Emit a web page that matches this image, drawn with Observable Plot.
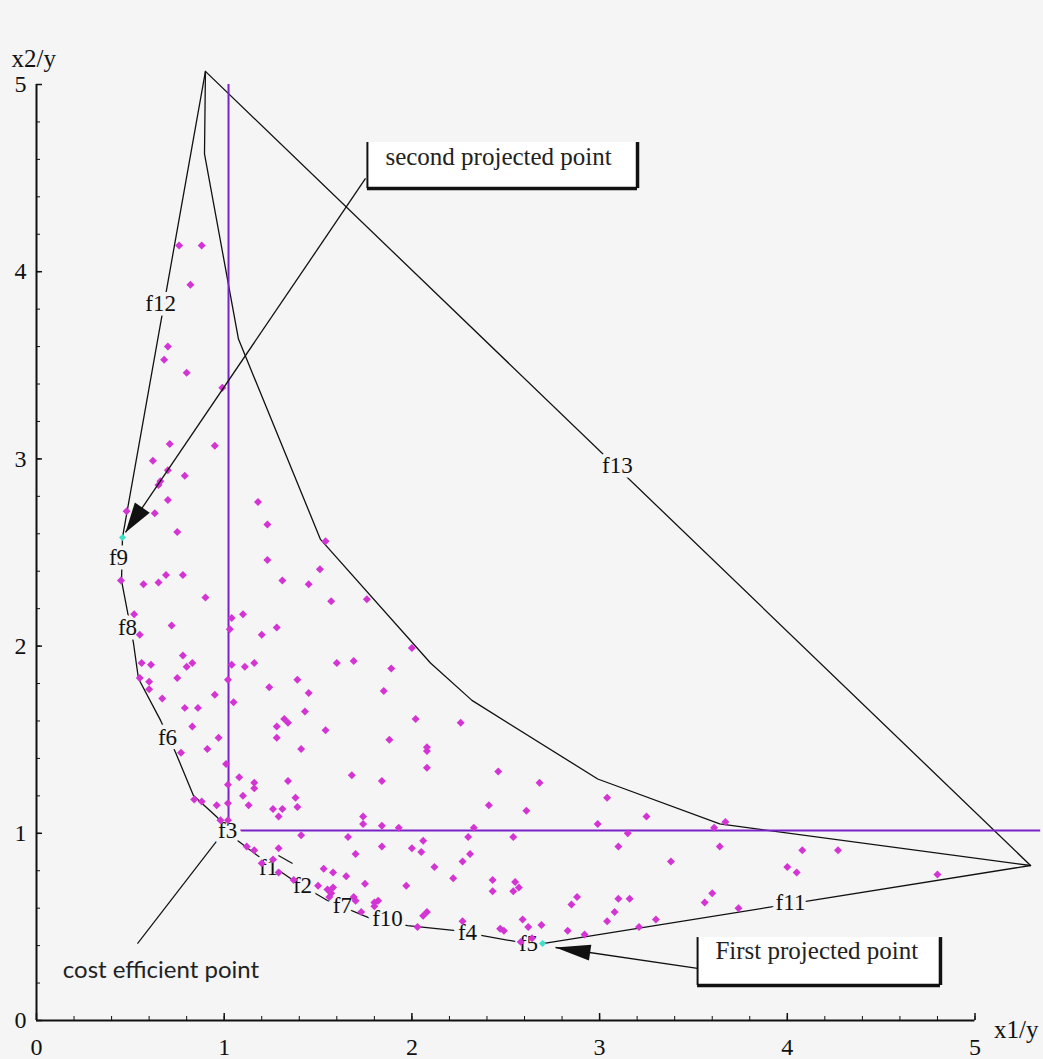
<!DOCTYPE html>
<html>
<head>
<meta charset="utf-8">
<script src="https://cdn.jsdelivr.net/npm/d3@7"></script>
<script src="https://cdn.jsdelivr.net/npm/@observablehq/plot@0.6"></script>
<style>
  html, body { margin: 0; padding: 0; background: #f5f5f5; }
  #chart { width: 1043px; height: 1059px; }
  #chart svg text { font-family: "Liberation Serif", "DejaVu Serif", serif; }
  #chart svg text.sansnote { font-family: Lato, "Noto Sans", sans-serif; }
</style>
</head>
<body>
<div id="chart"></div>
<script>
// ---------- data (chart units) ----------
const pointsX = [
  0.76,0.88,0.82,0.70,0.68,0.80,0.99,0.71,0.95,0.62,
  0.70,0.66,0.65,0.79,0.70,0.48,0.63,1.18,1.23,0.75,
  1.23,1.54,0.45,0.57,0.65,0.69,0.78,0.90,1.31,1.51,
  1.45,1.57,1.76,0.52,0.72,1.04,1.10,1.03,1.28,1.20,
  0.55,2.00,0.56,0.61,0.78,0.83,0.80,1.04,1.11,1.16,
  1.60,1.69,1.89,0.55,0.60,0.75,1.02,1.24,1.39,1.45,
  1.85,0.95,0.67,0.60,1.05,1.43,2.02,0.79,0.86,1.32,
  1.34,1.28,1.54,0.83,1.28,1.88,0.97,0.91,1.41,0.77,
  2.08,2.08,1.01,1.08,1.68,1.84,1.16,1.16,1.34,1.02,
  1.10,1.38,0.84,0.88,0.96,1.02,1.13,1.39,1.26,1.31,
  1.29,1.74,1.74,0.98,1.02,1.84,1.93,1.41,1.66,2.06,
  1.84,2.00,2.05,1.12,1.16,1.29,1.70,1.20,1.26,1.53,
  1.58,1.65,1.29,1.37,1.75,1.97,1.50,1.55,1.58,1.56,
  1.69,1.57,
  2.30,2.54,2.31,2.27,2.12,2.22,2.43,2.43,2.55,2.54,
  2.57,1.70,1.80,1.82,1.80,1.73,2.08,2.06,2.03,2.27,
  2.59,2.47,2.49,2.62,2.69,2.58,2.26,2.08,2.46,2.68,
  2.41,2.61,2.99,3.04,3.25,2.33,3.15,3.10,3.61,3.67,
  3.64,3.38,2.88,3.10,3.16,3.60,4.00,2.85,3.56,3.08,
  3.04,3.74,3.30,3.21,2.83,2.92,2.64,4.08,4.27,4.05,4.80
];
const pointsY = [
  4.14,4.14,3.93,3.60,3.53,3.46,3.38,3.08,3.07,2.99,
  2.94,2.88,2.86,2.91,2.78,2.72,2.71,2.77,2.65,2.61,
  2.46,2.56,2.35,2.33,2.34,2.38,2.38,2.26,2.35,2.41,
  2.33,2.24,2.25,2.17,2.11,2.15,2.17,2.09,2.10,2.06,
  2.06,1.99,1.91,1.90,1.95,1.91,1.89,1.90,1.89,1.91,
  1.91,1.92,1.88,1.83,1.81,1.83,1.82,1.78,1.82,1.75,
  1.76,1.74,1.72,1.77,1.70,1.65,1.61,1.67,1.67,1.61,
  1.59,1.57,1.55,1.57,1.51,1.50,1.51,1.45,1.45,1.43,
  1.46,1.35,1.37,1.30,1.31,1.28,1.27,1.24,1.28,1.26,
  1.20,1.19,1.18,1.17,1.15,1.16,1.15,1.14,1.13,1.13,
  1.09,1.09,1.05,1.07,1.07,1.04,1.03,0.99,0.98,0.96,
  0.93,0.92,0.90,0.93,0.91,0.92,0.89,0.84,0.86,0.81,
  0.79,0.77,0.79,0.75,0.73,0.72,0.72,0.70,0.71,0.66,
  0.66,0.68,
  0.98,0.98,0.89,0.85,0.82,0.76,0.75,0.69,0.74,0.69,
  0.71,0.64,0.63,0.64,0.61,0.58,0.58,0.56,0.50,0.53,
  0.54,0.49,0.48,0.50,0.51,0.42,1.59,1.44,1.33,1.27,
  1.15,1.12,1.05,1.19,1.09,1.03,1.00,0.93,1.03,1.06,
  0.93,0.85,0.66,0.65,0.65,0.68,0.82,0.62,0.63,0.58,
  0.53,0.60,0.54,0.50,0.48,0.46,0.44,0.91,0.91,0.79,0.78
];

// projected points (cyan): f9 and f5
const projX = [0.458, 2.696];
const projY = [2.580, 0.411];

// outer boundary: peak -> f12 -> f9 ... f5 -> f11 -> far vertex -> f13 -> peak
const outerX = [0.90, 0.458,0.453,0.517,0.543,0.661,0.741,0.836,0.964,1.071,1.177,1.369,1.550,1.769,1.977,2.222,2.579,2.696, 5.296, 0.90];
const outerY = [5.07, 2.580,2.350,2.014,1.827,1.603,1.432,1.202,1.084,0.962,0.881,0.748,0.641,0.550,0.507,0.481,0.417,0.411, 0.828, 5.07];

// inner boundary curve
const innerX = [0.90, 0.895, 1.076, 1.513, 2.099, 2.32, 2.99, 3.64, 5.296];
const innerY = [5.07, 4.63, 3.64, 2.57, 1.91, 1.71, 1.29, 1.05, 0.828];

// purple reference lines
const vRule = [{x: 1.023, y1: 1.05, y2: 5.0}];
const hRule = [{y: 1.015, x1: 1.06, x2: 5.35}];

// facet labels
const labelNames = ["f12","f13","f9","f8","f6","f3","f1","f2","f7","f10","f4","f5","f11"];
const labelX = [0.661,3.095,0.437,0.485,0.698,1.018,1.236,1.417,1.630,1.870,2.296,2.621,4.017];
const labelY = [3.83, 2.965,2.473,2.100,1.512,1.015,0.817,0.721,0.614,0.545,0.470,0.411,0.630];

// ticks
const xTickLabels = [0,1,2,3,4,5];
const yTickLabels = [0,1,2,3,4,5];
const minorTicks = d3.range(0, 5.0001, 0.2);

// annotations
const boxes = [
  {x1: 1.763, x2: 3.202, y1: 4.444, y2: 4.690, tx: 1.859, ty: 4.615, text: "second projected point"},
  {x1: 3.522, x2: 4.816, y1: 0.187, y2: 0.443, tx: 3.617, ty: 0.370, text: "First projected point"}
];
const arrows = [
  {x1: 1.753, y1: 4.498, x2: 0.474, y2: 2.607, len: 30, half: 9},
  {x1: 3.522, y1: 0.278, x2: 2.765, y2: 0.390, len: 35, half: 8}
];
const plainLinks = [
  {x1: 0.970, y1: 0.972, x2: 0.538, y2: 0.411},
  {x1: 1.289, y1: 0.881, x2: 1.364, y2: 0.839}
];
const notes = [{x: 0.14, y: 0.267, text: "cost efficient point"}];

// ---------- layout ----------
const W = 1043, H = 1059, ML = 36, MR = 68.5, MT = 84, MB = 39;
const kx = (W - ML - MR) / 5, ky = (H - MT - MB) / 5;
const BG = "#f5f5f5", INK = "#111", MAGENTA = "#d334d3", CYAN = "#3ee0c6", PURPLE = "#7a22c8";
const SERIF = "Liberation Serif, DejaVu Serif, serif";

const points = pointsX.map((x, i) => ({x, y: pointsY[i]}));
const proj = projX.map((x, i) => ({x, y: projY[i]}));
const outer = outerX.map((x, i) => ({x, y: outerY[i]}));
const inner = innerX.map((x, i) => ({x, y: innerY[i]}));
const labels = labelNames.map((t, i) => ({t, x: labelX[i], y: labelY[i]}));

function headSymbol(a) {
  let ux = (a.x2 - a.x1) * kx, uy = -(a.y2 - a.y1) * ky;
  const n = Math.hypot(ux, uy); ux /= n; uy /= n;
  const bx = -ux * a.len, by = -uy * a.len, px = -uy * a.half, py = ux * a.half;
  return {draw(ctx) {
    ctx.moveTo(0, 0);
    ctx.lineTo(bx + px, by + py);
    ctx.lineTo(bx - px, by - py);
    ctx.closePath();
  }};
}

const chart = Plot.plot({
  width: W, height: H,
  marginLeft: ML, marginRight: MR, marginTop: MT, marginBottom: MB,
  x: {domain: [0, 5], axis: null},
  y: {domain: [0, 5], axis: null},
  style: {background: BG, overflow: "visible"},
  marks: [
    // axes
    Plot.ruleY([0], {x1: 0, x2: 5, stroke: INK, strokeWidth: 2}),
    Plot.ruleX([0], {y1: 0, y2: 5, stroke: INK, strokeWidth: 2}),
    Plot.ruleX(xTickLabels, {x: d => d, y1: 0, y2: 7 / ky, stroke: INK, strokeWidth: 1.5}),
    Plot.ruleX(minorTicks, {x: d => d, y1: 0, y2: 4 / ky, stroke: INK, strokeWidth: 1}),
    Plot.ruleY(yTickLabels, {y: d => d, x1: 0, x2: 6 / kx, stroke: INK, strokeWidth: 1.5}),
    Plot.ruleY(minorTicks, {y: d => d, x1: 0, x2: 4 / kx, stroke: INK, strokeWidth: 1}),
    Plot.text(xTickLabels, {x: d => d, y: 0, dy: 27, text: d => String(d), fontSize: 24, fontFamily: SERIF, fill: INK}),
    Plot.text(yTickLabels, {x: 0, y: d => d, dx: -16, text: d => String(d), fontSize: 24, fontFamily: SERIF, fill: INK}),
    Plot.text(["x2/y"], {x: 0, y: 5, dx: -25, dy: -26, text: d => d, textAnchor: "start", fontSize: 25, fontFamily: SERIF, fill: INK}),
    Plot.text(["x1/y"], {x: 5, y: 0, dx: 19, dy: 9, text: d => d, textAnchor: "start", fontSize: 25, fontFamily: SERIF, fill: INK}),

    // boundaries
    Plot.line(outer, {x: "x", y: "y", stroke: INK, strokeWidth: 1.3}),
    Plot.line(inner, {x: "x", y: "y", stroke: INK, strokeWidth: 1.3}),

    // purple lines
    Plot.ruleX(vRule, {x: "x", y1: "y1", y2: "y2", stroke: PURPLE, strokeWidth: 2}),
    Plot.ruleY(hRule, {y: "y", x1: "x1", x2: "x2", stroke: PURPLE, strokeWidth: 2}),

    // plain lines
    Plot.link(plainLinks, {x1: "x1", y1: "y1", x2: "x2", y2: "y2", stroke: INK, strokeWidth: 1.2}),

    // facet labels with halo
    Plot.text(labels, {x: "x", y: "y", text: "t", fontSize: 23, fontFamily: SERIF, fill: BG, stroke: BG, strokeWidth: 9}),
    Plot.text(labels, {x: "x", y: "y", text: "t", fontSize: 23, fontFamily: SERIF, fill: INK}),

    // points
    Plot.dot(points, {x: "x", y: "y", symbol: "diamond2", r: 3.6, fill: MAGENTA, stroke: "none"}),
    Plot.dot(proj, {x: "x", y: "y", symbol: "diamond2", r: 3.2, fill: CYAN, stroke: "none"}),

    // callout boxes
    Plot.rect(boxes, {x1: "x1", x2: "x2", y1: "y1", y2: "y2", fill: "white"}),
    Plot.ruleX(boxes, {x: "x1", y1: "y1", y2: "y2", stroke: INK, strokeWidth: 2}),
    Plot.ruleX(boxes, {x: "x2", y1: "y1", y2: "y2", stroke: INK, strokeWidth: 3.5}),
    Plot.ruleY(boxes, {y: "y1", x1: "x1", x2: "x2", stroke: INK, strokeWidth: 3.5}),
    Plot.text(boxes, {x: "tx", y: "ty", text: "text", textAnchor: "start", fontSize: 25, fontFamily: SERIF, fill: "#222"}),

    // arrows
    Plot.link(arrows, {x1: "x1", y1: "y1", x2: "x2", y2: "y2", stroke: INK, strokeWidth: 1.3}),
    ...arrows.map(a => Plot.dot([a], {x: "x2", y: "y2", r: 2, symbol: headSymbol(a), fill: INK, stroke: "none"})),

    // note
    Plot.text(notes, {x: "x", y: "y", text: "text", textAnchor: "start", fontSize: 24, fill: "#222"})
  ]
});
document.getElementById("chart").appendChild(chart);
// the note uses a sans-serif face, everything else a serif face
d3.select(chart).selectAll("text").filter(function() { return this.textContent === notes[0].text; }).classed("sansnote", true);
</script>
</body>
</html>
